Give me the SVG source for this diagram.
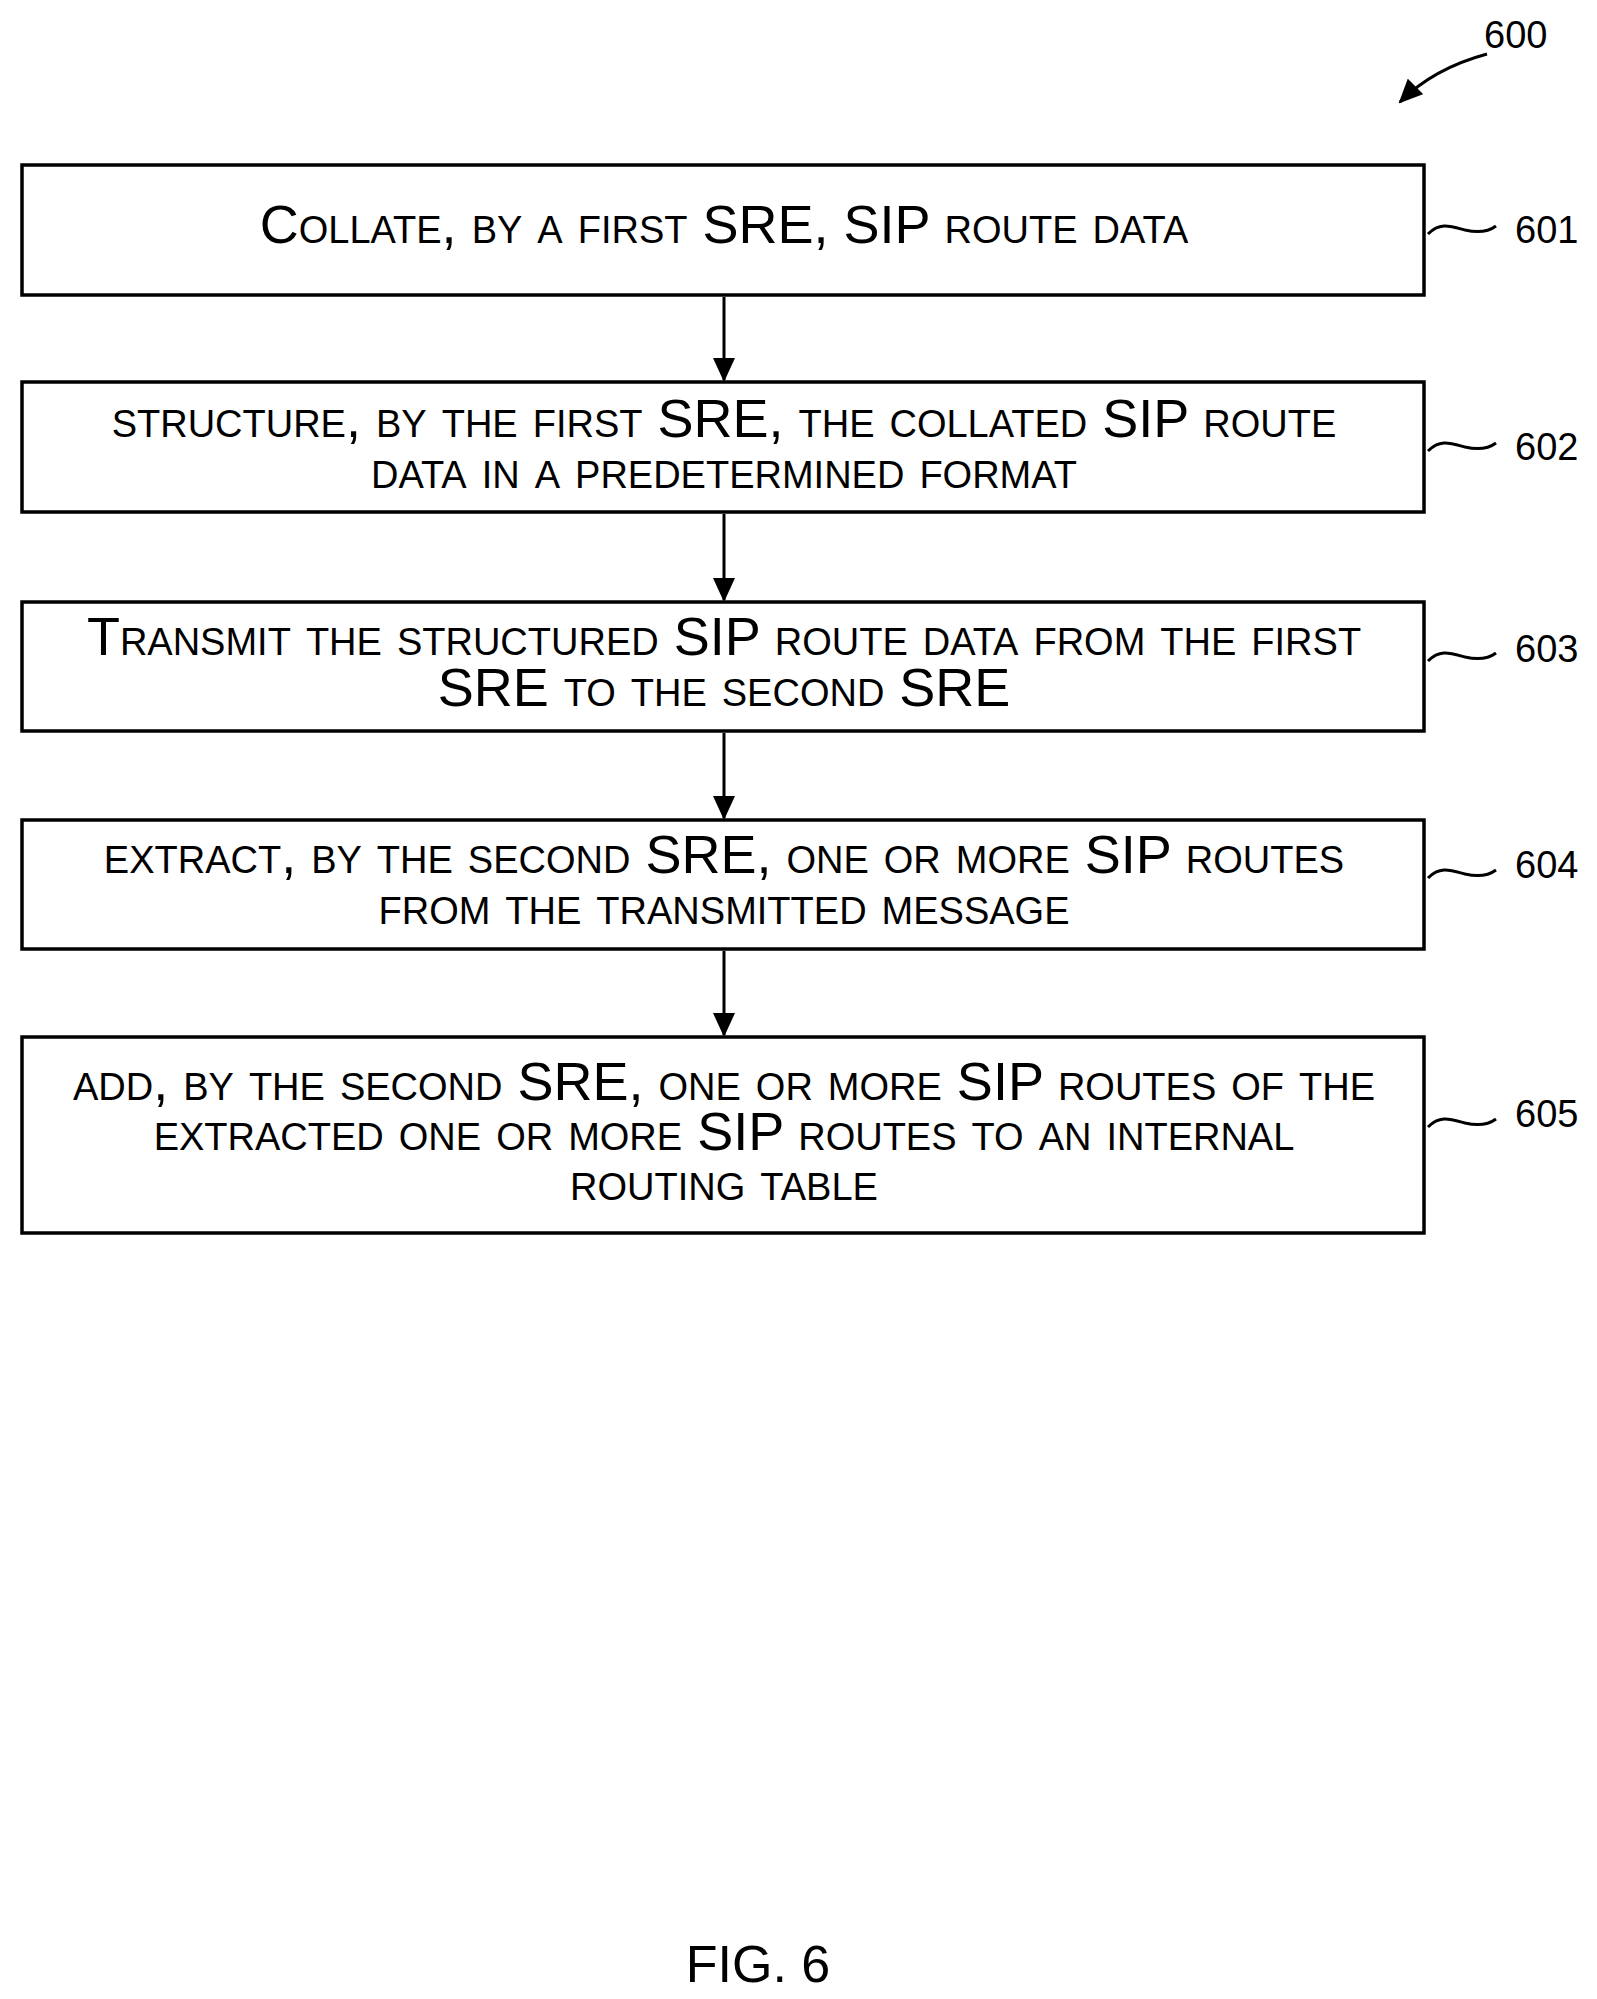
<svg xmlns="http://www.w3.org/2000/svg" width="1597" height="1999" viewBox="0 0 1597 1999">
<defs>
<marker id="ah2" markerWidth="24" markerHeight="22" refX="22" refY="11" orient="auto" markerUnits="userSpaceOnUse"><path d="M0,0 L24,11 L0,22 Z" fill="#000"/></marker>
<style>
.box{fill:#fff;stroke:#000;stroke-width:3.5}
.t{font-family:"Liberation Sans",Arial,sans-serif;font-size:54px;font-variant:small-caps;text-anchor:middle;fill:#000}
.lbl{font-family:"Liberation Sans",Arial,sans-serif;font-size:38px;fill:#000}
.c{stroke:#000;stroke-width:3;fill:none}
</style>
</defs>
<g id="n601"><rect class="box" x="22" y="165" width="1402" height="130"/><text class="t" x="724" y="243">Collate, by a first SRE, SIP route data</text></g>
<g id="n602"><rect class="box" x="22" y="382" width="1402" height="130"/><text class="t" x="724" y="437">structure, by the first SRE, the collated SIP route</text><text class="t" x="724" y="488">data in a predetermined format</text></g>
<g id="n603"><rect class="box" x="22" y="602" width="1402" height="129"/><text class="t" x="724" y="655">Transmit the structured SIP route data from the first</text><text class="t" x="724" y="706">SRE to the second SRE</text></g>
<g id="n604"><rect class="box" x="22" y="820" width="1402" height="129"/><text class="t" x="724" y="873">extract, by the second SRE, one or more SIP routes</text><text class="t" x="724" y="924">from the transmitted message</text></g>
<g id="n605"><rect class="box" x="22" y="1037" width="1402" height="196"/><text class="t" x="724" y="1100">add, by the second SRE, one or more SIP routes of the</text><text class="t" x="724" y="1150">extracted one or more SIP routes to an internal</text><text class="t" x="724" y="1200">routing table</text></g>
<g id="connectors">
<line class="c" x1="724" y1="297" x2="724" y2="380" marker-end="url(#ah2)"/>
<line class="c" x1="724" y1="514" x2="724" y2="600" marker-end="url(#ah2)"/>
<line class="c" x1="724" y1="733" x2="724" y2="818" marker-end="url(#ah2)"/>
<line class="c" x1="724" y1="951" x2="724" y2="1035" marker-end="url(#ah2)"/>
<path class="c" d="M1428,234 C1440,222 1450,226 1465,230 C1478,233 1488,232 1496,226"/>
<path class="c" d="M1428,451 C1440,439 1450,443 1465,447 C1478,450 1488,449 1496,443"/>
<path class="c" d="M1428,661 C1440,649 1450,653 1465,657 C1478,660 1488,659 1496,653"/>
<path class="c" d="M1428,878 C1440,866 1450,870 1465,874 C1478,877 1488,876 1496,870"/>
<path class="c" d="M1428,1127 C1440,1115 1450,1119 1465,1123 C1478,1126 1488,1125 1496,1119"/>
<path class="c" d="M1487,54 C1450,64 1420,82 1400,102" marker-end="url(#ah2)"/>
</g>
<text class="lbl" x="1515" y="243">601</text>
<text class="lbl" x="1515" y="460">602</text>
<text class="lbl" x="1515" y="662">603</text>
<text class="lbl" x="1515" y="878">604</text>
<text class="lbl" x="1515" y="1127">605</text>
<text class="lbl" x="1484" y="48">600</text>
<text x="758" y="1982" style="font-family:'Liberation Sans',Arial,sans-serif;font-size:52px;text-anchor:middle">FIG. 6</text>
</svg>
